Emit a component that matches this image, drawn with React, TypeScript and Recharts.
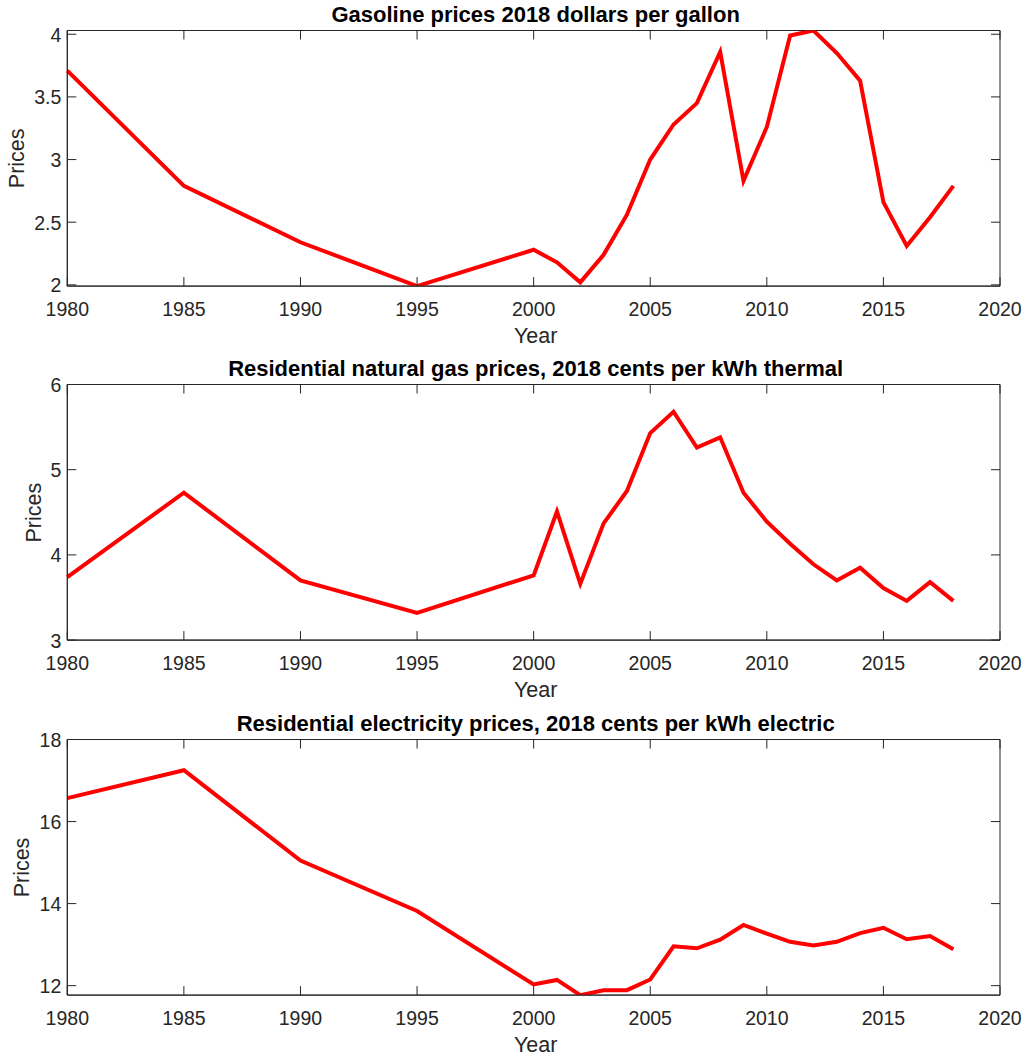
import React from 'react';
import { LineChart, Line, XAxis, YAxis, ReferenceArea } from 'recharts';

const years = [1980, 1985, 1990, 1995, 2000, 2001, 2002, 2003, 2004, 2005, 2006, 2007, 2008, 2009, 2010, 2011, 2012, 2013, 2014, 2015, 2016, 2017, 2018];
const gasolinePrices = [3.71, 2.79, 2.34, 1.99, 2.28, 2.18, 2.02, 2.24, 2.56, 3.0, 3.28, 3.45, 3.86, 2.83, 3.26, 3.99, 4.03, 3.85, 3.63, 2.66, 2.31, 2.54, 2.79];
const naturalGasPrices = [3.74, 4.73, 3.7, 3.32, 3.76, 4.51, 3.66, 4.37, 4.75, 5.43, 5.68, 5.26, 5.38, 4.73, 4.39, 4.13, 3.89, 3.7, 3.85, 3.61, 3.46, 3.68, 3.46];
const electricityPrices = [16.57, 17.25, 15.05, 13.82, 12.03, 12.14, 11.77, 11.89, 11.89, 12.15, 12.96, 12.91, 13.12, 13.48, 13.27, 13.07, 12.98, 13.07, 13.28, 13.41, 13.13, 13.21, 12.89];

const xTicks = [1980, 1985, 1990, 1995, 2000, 2005, 2010, 2015, 2020];
const gasolineTicks = [2, 2.5, 3, 3.5, 4];
const naturalGasTicks = [3, 4, 5, 6];
const electricityTicks = [12, 14, 16, 18];

const titles = [
  'Gasoline prices 2018 dollars per gallon',
  'Residential natural gas prices, 2018 cents per kWh thermal',
  'Residential electricity prices, 2018 cents per kWh electric',
];

const FONT = "'Liberation Sans', Arial, Helvetica, sans-serif";
const AX = '#262626';
const W = 1027;
const H = 345;
const PLOT_LEFT = 67.3;
const PLOT_RIGHT = 1000;
const PLOT_W = PLOT_RIGHT - PLOT_LEFT;
const PLOT_TOP = 30.5;
const PLOT_H = 255.6;
const YAXIS_W = 60;
const XAXIS_H = 40;
const TICK = 9;
const TICK_FS = 19.5;
const LABEL_FS = 21.5;
const TITLE_FS = 22;
const chartTops = [0, 354.3, 709.2];
const yLabelBaselineX = [24, 40.7, 29];

const makeData = (vals: number[]) => years.map((yr, i) => ({ year: yr, value: vals[i] }));

const XTick = (props: any) => {
  const { x, y, payload } = props;
  return (
    <g>
      <line x1={x} x2={x} y1={y} y2={y - TICK} stroke={AX} strokeWidth={1} />
      <line x1={x} x2={x} y1={y - PLOT_H} y2={y - PLOT_H + TICK} stroke={AX} strokeWidth={1} />
      <text x={x} y={y + 30} textAnchor="middle" fontFamily={FONT} fontSize={TICK_FS} fill={AX}>
        {payload.value}
      </text>
    </g>
  );
};

const YTick = (props: any) => {
  const { x, y, payload } = props;
  return (
    <g>
      <line x1={x} x2={x + TICK} y1={y} y2={y} stroke={AX} strokeWidth={1} />
      <line x1={x + PLOT_W - TICK} x2={x + PLOT_W} y1={y} y2={y} stroke={AX} strokeWidth={1} />
      <text x={x - 6} y={y + 7.5} textAnchor="end" fontFamily={FONT} fontSize={TICK_FS} fill={AX}>
        {payload.value}
      </text>
    </g>
  );
};

type PanelProps = { vals: number[]; ticks: number[]; domain: [number, number]; top: number };

const Panel = ({ vals, ticks, domain, top }: PanelProps) => (
  <div style={{ position: 'absolute', left: 0, top, width: W, height: H }}>
    <LineChart
      width={W}
      height={H}
      data={makeData(vals)}
      margin={{ top: PLOT_TOP, right: W - PLOT_RIGHT, left: PLOT_LEFT - YAXIS_W, bottom: H - PLOT_TOP - PLOT_H - XAXIS_H }}
    >
      <XAxis
        dataKey="year"
        type="number"
        domain={[1980, 2020]}
        ticks={xTicks}
        interval={0}
        height={XAXIS_H}
        tickSize={0}
        tickMargin={0}
        tick={<XTick />}
        axisLine={{ stroke: AX, strokeWidth: 1 }}
        tickLine={false}
      />
      <YAxis
        type="number"
        domain={domain}
        ticks={ticks}
        interval={0}
        width={YAXIS_W}
        tickSize={0}
        tickMargin={0}
        tick={<YTick />}
        axisLine={{ stroke: AX, strokeWidth: 1 }}
        tickLine={false}
        allowDataOverflow
      />
      <ReferenceArea x1={1980} x2={2020} y1={domain[0]} y2={domain[1]} fill="none" fillOpacity={0} stroke={AX} strokeWidth={1} />
      <Line type="linear" dataKey="value" stroke="#ff0000" strokeWidth={4} dot={false} isAnimationActive={false} strokeLinejoin="miter" />
    </LineChart>
  </div>
);

export default function App() {
  const panels: PanelProps[] = [
    { vals: gasolinePrices, ticks: gasolineTicks, domain: [Math.min(...gasolinePrices), Math.max(...gasolinePrices)], top: chartTops[0] },
    { vals: naturalGasPrices, ticks: naturalGasTicks, domain: [3, 6], top: chartTops[1] },
    { vals: electricityPrices, ticks: electricityTicks, domain: [Math.min(...electricityPrices), 18], top: chartTops[2] },
  ];
  const midX = (PLOT_LEFT + PLOT_RIGHT) / 2;
  return (
    <div style={{ position: 'absolute', left: 0, top: 0, width: W, height: 1056, background: '#fff' }}>
      {panels.map((p, i) => (
        <Panel key={i} {...p} />
      ))}
      <svg width={W} height={1056} style={{ position: 'absolute', left: 0, top: 0, pointerEvents: 'none' }}>
        {chartTops.map((t, i) => {
          const plotTop = t + PLOT_TOP;
          const plotBottom = plotTop + PLOT_H;
          const midY = plotTop + PLOT_H / 2;
          return (
            <g key={i}>
              <text x={midX + 2} y={plotTop - 9} textAnchor="middle" fontFamily={FONT} fontSize={TITLE_FS} fontWeight="bold" fill="#000">
                {titles[i]}
              </text>
              <text x={midX + 2} y={plotBottom + 57} textAnchor="middle" fontFamily={FONT} fontSize={LABEL_FS} fill={AX}>
                Year
              </text>
              <text
                x={yLabelBaselineX[i]}
                y={midY}
                textAnchor="middle"
                fontFamily={FONT}
                fontSize={LABEL_FS}
                fill={AX}
                transform={`rotate(-90 ${yLabelBaselineX[i]} ${midY})`}
              >
                Prices
              </text>
            </g>
          );
        })}
      </svg>
    </div>
  );
}
